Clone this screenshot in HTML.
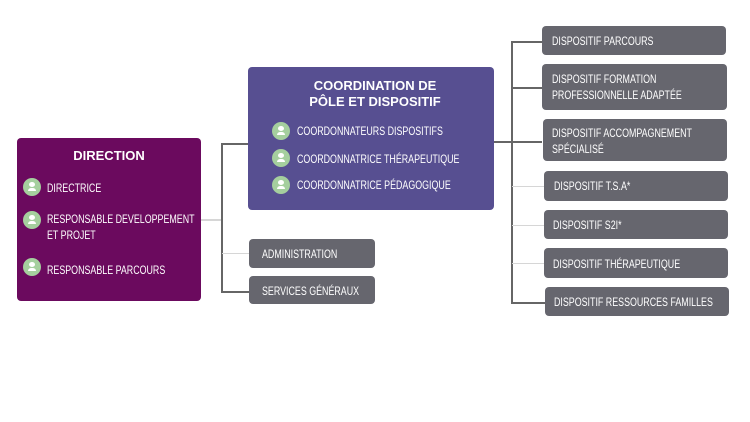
<!DOCTYPE html>
<html><head><meta charset="utf-8"><style>
*{margin:0;padding:0;box-sizing:border-box}
body{width:750px;height:422px;background:#fff;position:relative;overflow:hidden;font-family:"Liberation Sans",sans-serif;color:#fff}
.b{position:absolute;border-radius:4px}
.t{position:absolute;font-size:12px;line-height:16px;white-space:nowrap;transform:scaleX(.74);transform-origin:0 0}
.h{position:absolute;font-family:"Liberation Sans",sans-serif;font-weight:bold;font-size:13px;line-height:16px;text-align:center}
.c{position:absolute;width:18px;height:18px;border-radius:50%;background:#a5cf9e}
.c::after{content:"";position:absolute;left:6px;top:4px;width:6px;height:5px;border-radius:50%;background:#fff}
.c::before{content:"";position:absolute;left:5px;top:10px;width:8px;height:3px;border-radius:3px 3px 0 0;background:#fff}
.l{position:absolute;background:#666}
.ll{position:absolute;background:#d6d6d6}
.g{background:#66666e}
</style></head><body>
<div class="ll" style="left:201px;top:219px;width:21px;height:2px"></div>
<div class="l" style="left:221px;top:143px;width:1.5px;height:149px"></div>
<div class="l" style="left:221px;top:143px;width:27px;height:1.5px"></div>
<div class="ll" style="left:222px;top:253px;width:27px;height:1px"></div>
<div class="l" style="left:221px;top:291px;width:28px;height:1.5px"></div>

<div class="l" style="left:493px;top:141px;width:19px;height:1.5px"></div>
<div class="l" style="left:511px;top:41px;width:1.5px;height:262px"></div>
<div class="l" style="left:511px;top:41px;width:31px;height:1.5px"></div>
<div class="l" style="left:511px;top:87px;width:31px;height:1.5px"></div>
<div class="l" style="left:511px;top:141px;width:31px;height:1.5px"></div>
<div class="ll" style="left:512px;top:186px;width:32px;height:1px"></div>
<div class="ll" style="left:512px;top:225px;width:32px;height:1px"></div>
<div class="ll" style="left:512px;top:263px;width:32px;height:1px"></div>
<div class="l" style="left:511px;top:302px;width:34px;height:1.5px"></div>

<div class="b" style="left:17px;top:138px;width:184px;height:163px;background:#6b0a5e"></div>
<div class="h" style="left:17px;top:148px;width:184px">DIRECTION</div>
<div class="c" style="left:23px;top:178px"></div><div class="t" style="left:47px;top:180px">DIRECTRICE</div>
<div class="c" style="left:23px;top:211px"></div><div class="t" style="left:47px;top:211px">RESPONSABLE DEVELOPPEMENT<br>ET PROJET</div>
<div class="c" style="left:23px;top:258px"></div><div class="t" style="left:47px;top:262px">RESPONSABLE PARCOURS</div>

<div class="b" style="left:248px;top:67px;width:246px;height:143px;background:#574f91"></div>
<div class="h" style="left:248px;top:78px;width:254px">COORDINATION DE<br>PÔLE ET DISPOSITIF</div>
<div class="c" style="left:272px;top:122px"></div><div class="t" style="left:297px;top:123px">COORDONNATEURS DISPOSITIFS</div>
<div class="c" style="left:272px;top:149px"></div><div class="t" style="left:297px;top:151px">COORDONNATRICE THÉRAPEUTIQUE</div>
<div class="c" style="left:272px;top:176px"></div><div class="t" style="left:297px;top:177px">COORDONNATRICE PÉDAGOGIQUE</div>

<div class="b g" style="left:249px;top:239px;width:126px;height:29px"></div><div class="t" style="left:262px;top:246px">ADMINISTRATION</div>
<div class="b g" style="left:249px;top:276px;width:126px;height:28px"></div><div class="t" style="left:262px;top:283px">SERVICES GÉNÉRAUX</div>

<div class="b g" style="left:542px;top:26px;width:184px;height:29px"></div><div class="t" style="left:552px;top:33px">DISPOSITIF PARCOURS</div>
<div class="b g" style="left:542px;top:64px;width:185px;height:46px"></div><div class="t" style="left:552px;top:71px">DISPOSITIF FORMATION<br>PROFESSIONNELLE ADAPTÉE</div>
<div class="b g" style="left:543px;top:119px;width:184px;height:42px"></div><div class="t" style="left:552px;top:125px">DISPOSITIF ACCOMPAGNEMENT<br>SPÉCIALISÉ</div>
<div class="b g" style="left:544px;top:171px;width:184px;height:30px"></div><div class="t" style="left:554px;top:178px">DISPOSITIF T.S.A*</div>
<div class="b g" style="left:544px;top:210px;width:184px;height:29px"></div><div class="t" style="left:553px;top:217px">DISPOSITIF S2I*</div>
<div class="b g" style="left:544px;top:248px;width:184px;height:30px"></div><div class="t" style="left:553px;top:256px">DISPOSITIF THÉRAPEUTIQUE</div>
<div class="b g" style="left:545px;top:287px;width:184px;height:29px"></div><div class="t" style="left:554px;top:294px">DISPOSITIF RESSOURCES FAMILLES</div>
</body></html>
